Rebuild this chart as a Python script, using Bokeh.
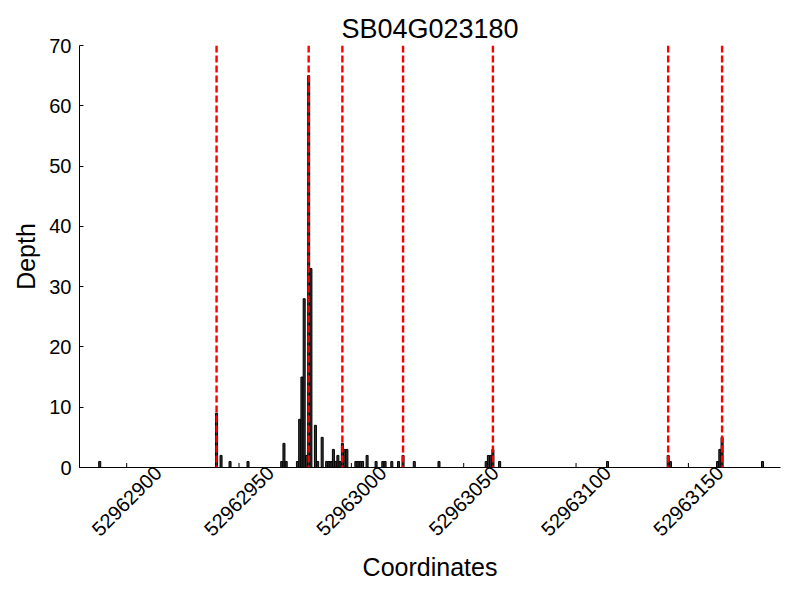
import math
from bokeh.plotting import figure
from bokeh.models import Range1d, FixedTicker, Span, ColumnDataSource
from bokeh.embed import file_html
from bokeh.resources import INLINE

TITLE = "SB04G023180"
X_LABEL = "Coordinates"
Y_LABEL = "Depth"

positions = [52962888, 52962940, 52962942, 52962946, 52962954,
             52962969, 52962970, 52962971,
             52962976, 52962977, 52962978, 52962979, 52962980, 52962981, 52962982,
             52962984, 52962985, 52962987, 52962989, 52962990, 52962991, 52962992,
             52962993, 52962994, 52962995, 52962996, 52962997, 52962998,
             52963002, 52963003, 52963004, 52963005, 52963007, 52963011,
             52963014, 52963015, 52963018, 52963021, 52963023, 52963028, 52963039,
             52963060, 52963061, 52963062, 52963063, 52963066,
             52963114, 52963141, 52963142, 52963163, 52963164, 52963165, 52963183]
depths = [1, 9, 2, 1, 1,
          1, 4, 1,
          1, 8, 15, 28, 2, 65, 33,
          7, 1, 5, 1, 1, 1, 3,
          1, 2, 1, 4, 3, 3,
          1, 1, 1, 1, 2, 1,
          1, 1, 1, 1, 2, 1, 1,
          1, 2, 2, 3, 1,
          1, 2, 1, 1, 3, 5, 1]

boundaries = [52962940, 52962981, 52962996, 52963023, 52963063, 52963141, 52963165]

x_ticks = [52962900, 52962950, 52963000, 52963050, 52963100, 52963150]
y_ticks = [0, 10, 20, 30, 40, 50, 60, 70]

X_MIN, X_MAX = 52962879, 52963191
Y_MIN, Y_MAX = 0, 70
LABEL_SHIFT = 14  # offset so right-anchored rotated labels sit centred under ticks

FONT = "Liberation Sans"

p = figure(width=800, height=600, output_backend="svg", toolbar_location=None,
           x_range=Range1d(X_MIN, X_MAX), y_range=Range1d(Y_MIN, Y_MAX),
           min_border_left=79, min_border_right=20, min_border_top=45,
           min_border_bottom=133, title=TITLE)

p.title.text_font = FONT
p.title.text_font_size = "27px"
p.title.text_font_style = "normal"
p.title.text_color = "black"
p.title.align = "center"
p.title.standoff = 4

p.outline_line_color = None
p.xgrid.visible = False
p.ygrid.visible = False
p.background_fill_color = "white"
p.border_fill_color = "white"

src = ColumnDataSource(dict(x=positions, top=depths))
p.vbar(x="x", top="top", width=0.9, bottom=0, source=src,
       fill_color="#333333", line_color="black", line_width=1)

for b in boundaries:
    p.add_layout(Span(location=b, dimension="height", line_color="#ff0000",
                      line_width=2.4, line_dash="7 3"))

# inward x tick marks at the true tick positions (clipped to the frame)
p.scatter(x=x_ticks, y=[Y_MIN] * len(x_ticks), marker="dash", angle=math.pi / 2,
          size=9, line_color="black", line_width=1)

xa = p.xaxis[0]
lab_ticks = [t + LABEL_SHIFT for t in x_ticks]
xa.ticker = FixedTicker(ticks=lab_ticks)
xa.major_label_overrides = {float(t + LABEL_SHIFT): str(t) for t in x_ticks}
xa.axis_label = X_LABEL
xa.axis_line_color = "black"
xa.major_tick_line_color = None
xa.minor_tick_line_color = None
xa.major_tick_in = 0
xa.major_tick_out = 0
xa.major_label_orientation = math.pi / 4
xa.major_label_text_font = FONT
xa.major_label_text_font_size = "20px"
xa.major_label_text_color = "black"
xa.major_label_standoff = 2
xa.axis_label_text_font = FONT
xa.axis_label_text_font_size = "25px"
xa.axis_label_text_font_style = "normal"
xa.axis_label_text_color = "black"
xa.axis_label_standoff = 8

ya = p.yaxis[0]
ya.ticker = FixedTicker(ticks=y_ticks)
ya.major_tick_in = 4
ya.major_tick_out = 0
ya.minor_tick_line_color = None
ya.major_label_standoff = 8
ya.major_label_text_font = FONT
ya.major_label_text_font_size = "20px"
ya.major_label_text_color = "black"
ya.axis_label = Y_LABEL
ya.axis_label_text_font = FONT
ya.axis_label_text_font_size = "25px"
ya.axis_label_text_font_style = "normal"
ya.axis_label_text_color = "black"
ya.axis_label_standoff = 6
ya.axis_line_color = "black"

open("out.html", "w").write(file_html(p, INLINE))
